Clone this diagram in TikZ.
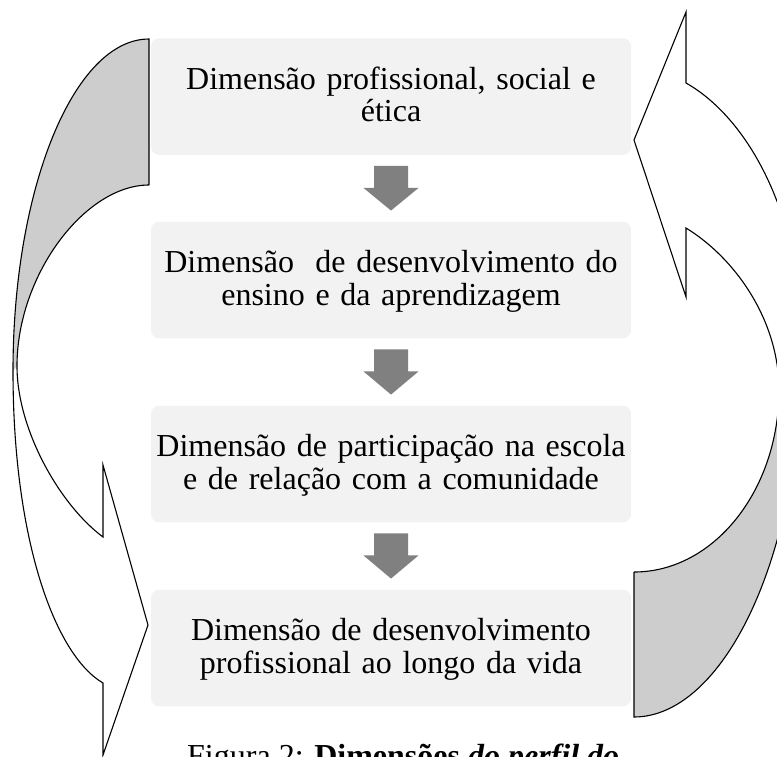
\documentclass[tikz,border=0pt]{standalone}
\usepackage{fontspec}
\setmainfont{Liberation Serif}
\usetikzlibrary{calc}
\definecolor{boxfill}{RGB}{242,242,242}
\definecolor{arrowgray}{RGB}{128,128,128}
\definecolor{backgray}{RGB}{205,205,205}
\newcommand{\dimtopstrut}{\rule{0pt}{25pt}}
\newcommand{\dimbotstrut}{\rule[-7pt]{0pt}{7pt}}
\begin{document}
\begin{tikzpicture}[x=1pt,y=-1pt,
  dimbox/.style={fill=boxfill, rounded corners=8pt, minimum width=480pt,
    minimum height=116.5pt, align=center, text width=478pt,
    inner xsep=1pt, inner ysep=0pt, font=\fontsize{32}{32.5}\selectfont},
  flowarrow/.style={fill=arrowgray, draw=none},
  ribbon/.style={draw=black, line width=1.1pt, line join=miter},
  ribbonback/.style={fill=backgray, draw=none},
  captext/.style={anchor=base west, inner sep=0pt, font=\fontsize{32}{34}\selectfont}]
\useasboundingbox (0,0) rectangle (777,756);
\begin{scope}
\clip (0,0) rectangle (777,756);
% boxes
\node[dimbox] (b1) at (391,96.5) {\dimtopstrut Dimensão profissional, social e\\ética\dimbotstrut};
\node[dimbox] (b2) at (391,280) {\dimtopstrut Dimensão\ \ de desenvolvimento do\\ensino e da aprendizagem\dimbotstrut};
\node[dimbox] (b3) at (391,464) {\dimtopstrut Dimensão de participação na escola\\e de relação com a comunidade\dimbotstrut};
\node[dimbox] (b4) at (391,648) {\dimtopstrut Dimensão de desenvolvimento\\profissional ao longo da vida\dimbotstrut};
% down arrows
\foreach \a/\b in {b1/b2,b2/b3,b3/b4}{
  \fill[flowarrow] ($(\a.south)+(-17,11)$) -- ($(\a.south)+(17,11)$)
    -- ($(\a.south)+(17,33)$) -- ($(\a.south)+(27.5,33)$)
    -- ($(\b.north)+(0,-11)$)
    -- ($(\a.south)+(-27.5,33)$) -- ($(\a.south)+(-17,33)$) -- cycle;
}
% left curved arrow
\fill[ribbonback] (149,39) .. controls (74,39) and (13,188) .. (13,371)
  -- (17,366) .. controls (17,275) and (85,185) .. (149,185) -- cycle;
\draw[ribbon] (149,185) -- (149,39) .. controls (74,39) and (13,188) .. (13,371)
  .. controls (13,540) and (55,655) .. (103,683) -- (103,755) -- (148,625)
  -- (103,465) -- (103,537) .. controls (60,505) and (17,430) .. (17,366)
  .. controls (17,275) and (85,185) .. (149,185);
% right curved arrow
\fill[ribbonback] (634,572) -- (634,717) .. controls (722,717) and (802,560) .. (802,345)
  -- (779,390) .. controls (779,490) and (714,572) .. (634,572) -- cycle;
\draw[ribbon] (634,572) -- (634,717) .. controls (722,717) and (802,560) .. (802,345)
  .. controls (802,215) and (748,118) .. (686,83) -- (686,12) -- (634,140)
  -- (686,297) -- (686,228) .. controls (735,258) and (779,320) .. (779,390)
  .. controls (779,490) and (714,572) .. (634,572);
% caption
\node[captext] (cap) at (187,766) {Figura 2: \textbf{Dimensões} \textbf{\textit{do perfil do}}};
\end{scope}
\end{tikzpicture}
\end{document}
